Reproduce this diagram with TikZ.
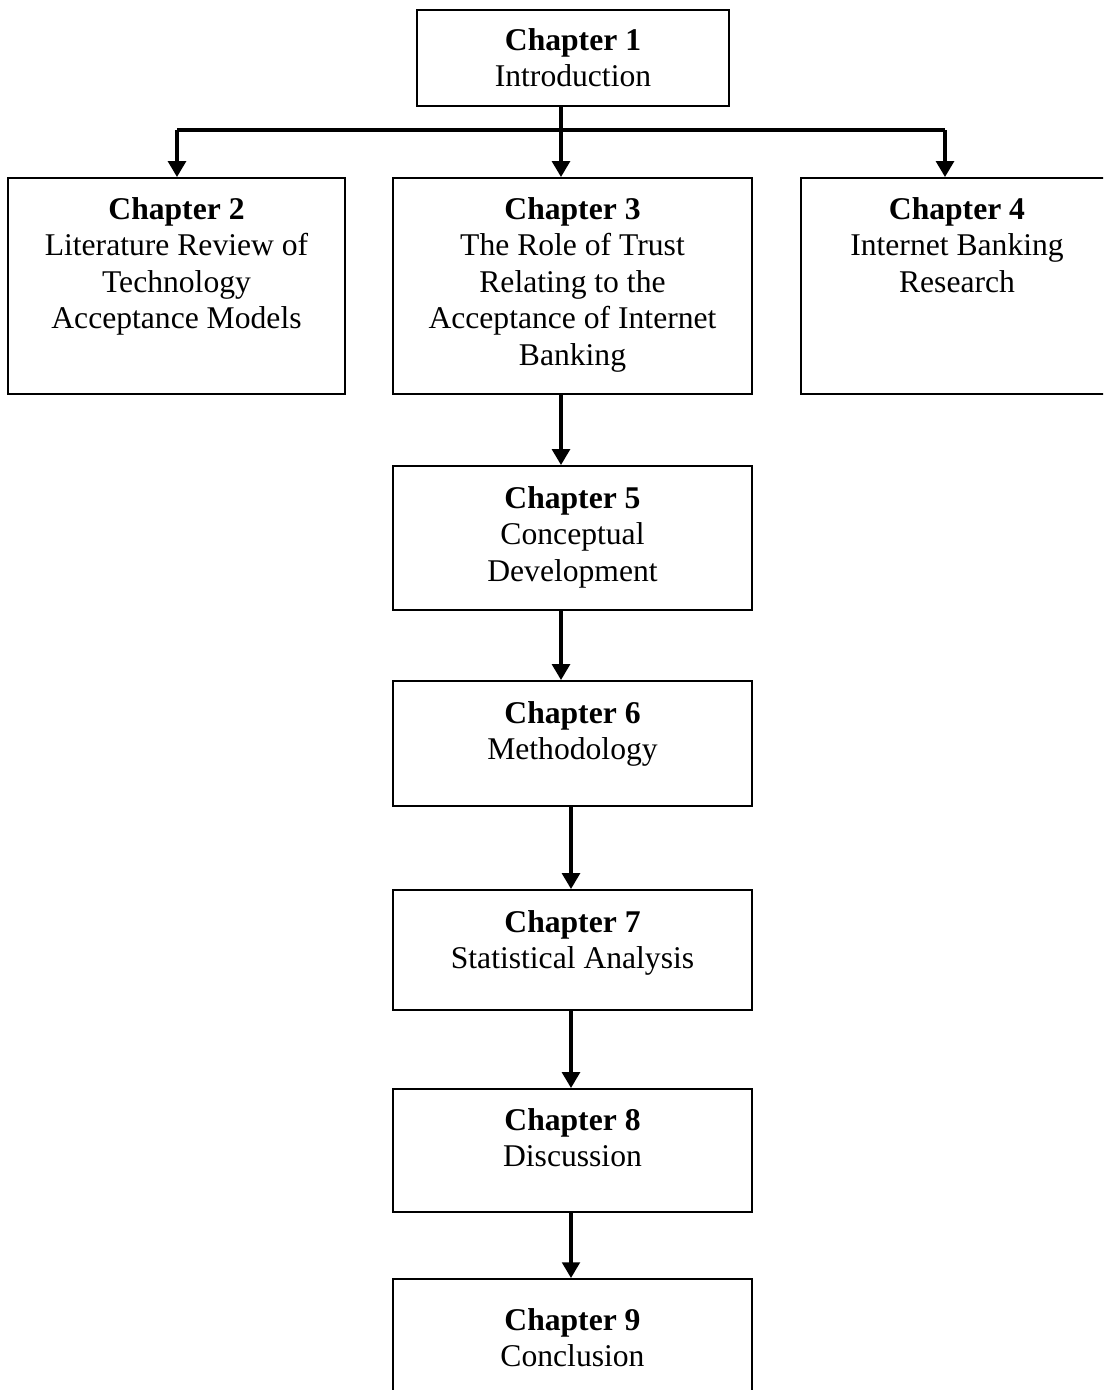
\documentclass[tikz,border=0pt]{standalone}
\usepackage{fontspec}
\setmainfont{Liberation Serif}
\usetikzlibrary{arrows.meta}
\begin{document}
\begin{tikzpicture}[x=0.02cm, y=-0.02cm,
  box/.style={draw=black, line width=1.1pt, rectangle, inner sep=0pt, fill=none},
  txt/.style={anchor=north, inner sep=0pt, align=center,
    font=\fontsize{18pt}{20.8pt}\selectfont},
  arr/.style={line width=2pt, -{Triangle[length=9pt, width=10pt]}},
  link/.style={line width=2pt}]
\useasboundingbox (0,0) rectangle (1103,1390);
\clip (0,0) rectangle (1103,1390);
\fill[white] (0,0) rectangle (1103,1390);

% chapter boxes
\node[box, minimum width=6.24cm, minimum height=1.92cm] (c1) at (573,58) {};
\node[box, minimum width=6.74cm, minimum height=4.32cm] (c2) at (176.5,286) {};
\node[box, minimum width=7.18cm, minimum height=4.32cm] (c3) at (572.5,286) {};
\node[box, minimum width=6.24cm, minimum height=4.32cm] (c4) at (957,286) {};
\node[box, minimum width=7.18cm, minimum height=2.88cm] (c5) at (572.5,538) {};
\node[box, minimum width=7.18cm, minimum height=2.50cm] (c6) at (572.5,743.5) {};
\node[box, minimum width=7.18cm, minimum height=2.40cm] (c7) at (572.5,950) {};
\node[box, minimum width=7.18cm, minimum height=2.46cm] (c8) at (572.5,1150.5) {};
\node[box, minimum width=7.18cm, minimum height=2.82cm] (c9) at (572.5,1349.5) {};

% chapter titles
\node[txt] (t1) at (573,28) {\textbf{Chapter 1}\\Introduction};
\node[txt] (t2) at (176.5,197) {\textbf{Chapter 2}\\Literature Review of\\Technology\\Acceptance Models};
\node[txt] (t3) at (572.5,197) {\textbf{Chapter 3}\\The Role of Trust\\Relating to the\\Acceptance of Internet\\Banking};
\node[txt] (t4) at (957,197) {\textbf{Chapter 4}\\Internet Banking\\Research};
\node[txt] (t5) at (572.5,486) {\textbf{Chapter 5}\\Conceptual\\Development};
\node[txt] (t6) at (572.5,701) {\textbf{Chapter 6}\\Methodology};
\node[txt] (t7) at (572.5,910) {\textbf{Chapter 7}\\Statistical Analysis};
\node[txt] (t8) at (572.5,1108) {\textbf{Chapter 8}\\Discussion};
\node[txt] (t9) at (572.5,1308) {\textbf{Chapter 9}\\Conclusion};

% branching from chapter 1
\coordinate (j) at (561,130);
\coordinate (jl) at (177,130);
\coordinate (jr) at (945,130);
\draw[link] (jl) -- (jr);
\draw[arr] (c1.south -| j) -- (c3.north -| j);
\draw[arr] (jl) -- (c2.north -| jl);
\draw[arr] (jr) -- (c4.north -| jr);

% main sequence
\coordinate (a) at (561,0);
\coordinate (b) at (571,0);
\draw[arr] (c3.south -| a) -- (c5.north -| a);
\draw[arr] (c5.south -| a) -- (c6.north -| a);
\draw[arr] (c6.south -| b) -- (c7.north -| b);
\draw[arr] (c7.south -| b) -- (c8.north -| b);
\draw[arr] (c8.south -| b) -- (c9.north -| b);
\end{tikzpicture}
\end{document}
